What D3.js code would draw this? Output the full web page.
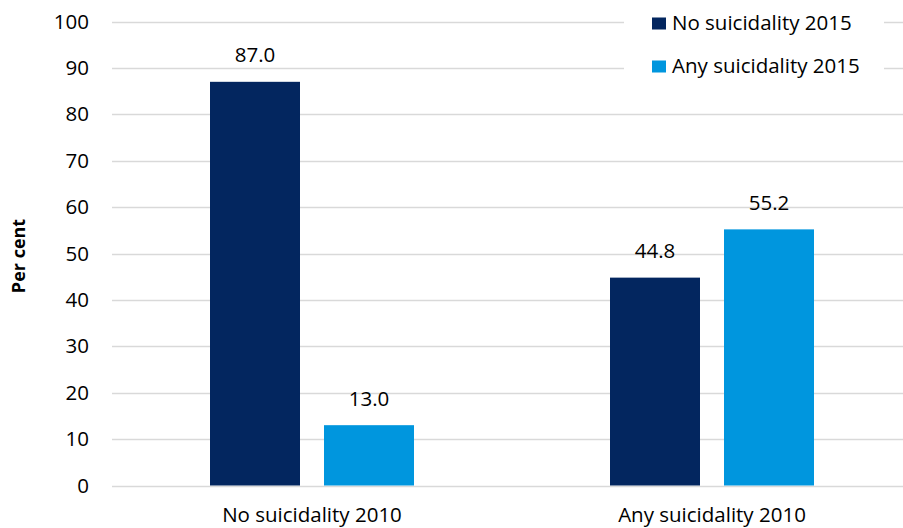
<!DOCTYPE html>
<html>
<head>
<meta charset="utf-8">
<script src="https://cdn.jsdelivr.net/npm/d3@7"></script>
<style>
  html, body { margin: 0; padding: 0; background: #fff; }
  svg { display: block; font-family: "Open Sans", Lato, sans-serif; }
</style>
</head>
<body>
<svg id="chart" width="903" height="528"></svg>
<script>
const categories = ["No suicidality 2010", "Any suicidality 2010"];
const seriesNames = ["No suicidality 2015", "Any suicidality 2015"];
const noSuicidality2015 = [87.0, 44.8];
const anySuicidality2015 = [13.0, 55.2];
const yTicks = [0, 10, 20, 30, 40, 50, 60, 70, 80, 90, 100];
const colors = ["#03265f", "#0096de"];

const seriesValues = [noSuicidality2015, anySuicidality2015];
const FONT = "'Open Sans', Lato, sans-serif";
const FS = 20.5;

const svg = d3.select("#chart");
const plotLeft = 112, plotRight = 912, plotTop = 21.5, plotBottom = 485.5;

const x = d3.scaleBand().domain(categories).range([plotLeft, plotRight]).paddingInner(0).paddingOuter(0);
const y = d3.scaleLinear().domain([0, 100]).range([plotBottom, plotTop]);

// gridlines
svg.append("g").selectAll("line").data(yTicks).join("line")
  .attr("x1", plotLeft).attr("x2", plotRight)
  .attr("y1", d => Math.round(y(d)) + 0.5).attr("y2", d => Math.round(y(d)) + 0.5)
  .attr("stroke", "#d9d9d9").attr("stroke-width", 1.3);

// y axis labels
const yAxis = d3.axisLeft(y).tickValues(yTicks).tickSize(0).tickPadding(0).tickFormat(d3.format("d"));
const yg = svg.append("g").attr("transform", `translate(89,0)`).call(yAxis);
yg.select(".domain").remove();
yg.selectAll("text").attr("font-size", FS).attr("fill", "#000").attr("font-family", FONT);

// x axis labels
const xAxis = d3.axisBottom(x).tickSize(0).tickPadding(0);
const xg = svg.append("g").attr("transform", `translate(0,507)`).call(xAxis);
xg.select(".domain").remove();
xg.selectAll("text").attr("font-size", FS).attr("fill", "#000").attr("font-family", FONT);

// y title
svg.append("text")
  .attr("transform", `translate(25,256) rotate(-90)`)
  .attr("text-anchor", "middle")
  .attr("font-family", FONT)
  .attr("font-size", 18).attr("font-weight", "bold")
  .text("Per cent");

// bars
const barW = 90, gap = 24;
const groups = svg.append("g").selectAll("g").data(categories).join("g")
  .attr("transform", d => `translate(${x(d) + x.bandwidth() / 2 - (2 * barW + gap) / 2},0)`);

groups.each(function(cat, ci) {
  const g = d3.select(this);
  seriesValues.forEach((vals, si) => {
    const v = vals[ci];
    const bx = si * (barW + gap);
    g.append("rect")
      .attr("x", bx).attr("width", barW)
      .attr("y", y(v)).attr("height", y(0) - y(v))
      .attr("fill", colors[si]);
    g.append("text")
      .attr("x", bx + barW / 2).attr("y", y(v) - 19.5)
      .attr("text-anchor", "middle")
      .attr("font-family", FONT)
      .attr("font-size", FS).attr("fill", "#000")
      .text(d3.format(".1f")(v));
  });
});

// legend
const legend = svg.append("g");
legend.append("rect").attr("x", 624).attr("y", 4).attr("width", 260).attr("height", 80).attr("fill", "#fff");
seriesNames.forEach((name, i) => {
  const ly = 17.5 + i * 43;
  legend.append("rect").attr("x", 652).attr("y", ly).attr("width", 14).attr("height", 12).attr("fill", colors[i]);
  legend.append("text").attr("x", 672).attr("y", ly + 12)
    .attr("font-family", FONT)
    .attr("font-size", FS).attr("fill", "#000").text(name);
});
</script>
</body>
</html>
